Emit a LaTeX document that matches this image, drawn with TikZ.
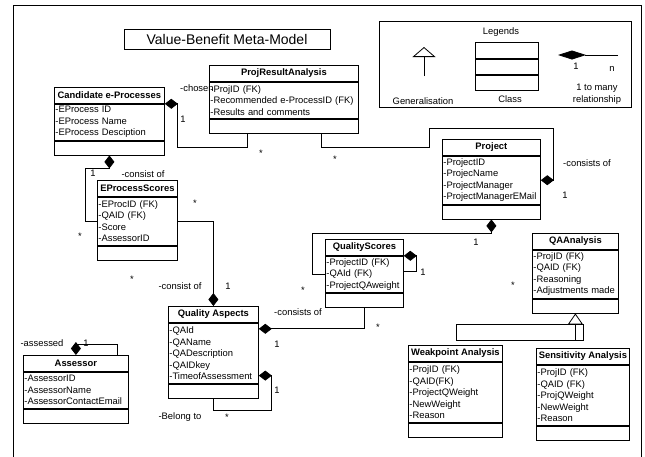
\documentclass[tikz,border=0pt]{standalone}
\usepackage{fontspec}
\setmainfont{Liberation Sans}
\usetikzlibrary{arrows.meta,positioning}

\tikzset{
  classtitle/.style={draw, line width=0.8pt, minimum height=16pt, inner sep=1pt, font=\fontsize{9.4}{11.5}\selectfont\bfseries},
  classattr/.style={draw, line width=0.8pt, inner xsep=1pt, inner ysep=0pt, align=left, anchor=north},
  classops/.style={draw, line width=0.8pt, minimum height=14pt, inner sep=0pt},
  comp/.style={line width=0.8pt, -{Diamond[length=13pt,width=10pt]}},
  gen/.style={line width=0.8pt, -{Triangle[open,length=11pt,width=15pt,fill=white]}},
  lbl/.style={inner sep=0pt},
}

\begin{document}
\begin{tikzpicture}[x=1pt, y=-1pt, font=\fontsize{9.4}{11.5}\selectfont]

        \useasboundingbox (0,0) rectangle (645,456);
        % Cornice esterna
        \draw[line width=0.8pt] (13,470) -- (13,5) -- (641,5) -- (641,470);

        % Titolo
        \node[draw, line width=0.8pt, minimum width=206pt, minimum height=20pt, font=\fontsize{14}{16}\selectfont] (title) at (227,39) {Value-Benefit Meta-Model};

        % Legenda
        \node[draw, line width=0.8pt, minimum width=252pt, minimum height=86pt, anchor=north west] (legend) at (379,21) {};
        \node[lbl] (legtitle) at (501,32) {Legends};
        \node[draw, line width=0.8pt, minimum width=63pt, minimum height=16pt, anchor=north west] (legc1) at (475,42) {};
        \node[draw, line width=0.8pt, minimum width=63pt, minimum height=15pt, below=0pt of legc1] (legc2) {};
        \node[draw, line width=0.8pt, minimum width=63pt, minimum height=15pt, below=0pt of legc2] (legc3) {};
        \node[lbl] (legclass) at (510,99) {Class};
        \coordinate (leggbot) at (424,76);
        \coordinate (leggtop) at (424,47);
        \draw[line width=0.8pt, -{Triangle[open,length=10pt,width=23pt,fill=white]}] (leggbot) -- (leggtop);
        \node[lbl] (leggen) at (423,101) {Generalisation};
        \coordinate (legdr) at (618,55);
        \coordinate (legdl) at (558,55);
        \draw[line width=0.8pt, -{Diamond[length=28pt,width=9pt]}] (legdr) -- (legdl);
        \node[lbl] (legone) at (576,66) {1};
        \node[lbl] (legn) at (612,69) {n};
        \node[lbl, align=center] (legrel) at (597,94) {1 to many\\relationship};

        % Classi
        \node[classtitle, minimum width=110pt, anchor=north west] (cand) at (54,87) {Candidate e-Processes};
        \node[classattr, text width=108pt, minimum height=36pt, below=0pt of cand] (cand-a) {-EProcess ID\\-EProcess Name\\-EProcess Desciption};
        \node[classops, minimum width=110pt, below=0pt of cand-a] (cand-o) {};

        \node[classtitle, minimum width=149pt, anchor=north west] (pra) at (209,65) {ProjResultAnalysis};
        \node[classattr, text width=147pt, minimum height=36pt, below=0pt of pra] (pra-a) {-ProjID (FK)\\-Recommended e-ProcessID (FK)\\-Results and comments};
        \node[classops, minimum width=149pt, below=0pt of pra-a] (pra-o) {};

        \node[classtitle, minimum width=98pt, anchor=north west] (proj) at (442,139) {Project};
        \node[classattr, text width=96pt, minimum height=48pt, below=0pt of proj] (proj-a) {-ProjectID\\-ProjecName\\-ProjectManager\\-ProjectManagerEMail};
        \node[classops, minimum width=98pt, below=0pt of proj-a] (proj-o) {};

        \node[classtitle, minimum width=80pt, anchor=north west] (eps) at (97,180) {EProcessScores};
        \node[classattr, text width=78pt, minimum height=48pt, below=0pt of eps] (eps-a) {-EProcID (FK)\\-QAID (FK)\\-Score\\-AssessorID};
        \node[classops, minimum width=80pt, below=0pt of eps-a] (eps-o) {};

        \node[classtitle, minimum width=78pt, anchor=north west] (qs) at (325,239) {QualityScores};
        \node[classattr, text width=76pt, minimum height=36pt, below=0pt of qs] (qs-a) {-ProjectID (FK)\\-QAId (FK)\\-ProjectQAweight};
        \node[classops, minimum width=78pt, below=0pt of qs-a] (qs-o) {};

        \node[classtitle, minimum width=86pt, anchor=north west] (qaa) at (532,233) {QAAnalysis};
        \node[classattr, text width=84pt, minimum height=48pt, below=0pt of qaa] (qaa-a) {-ProjID (FK)\\-QAID (FK)\\-Reasoning\\-Adjustments made};
        \node[classops, minimum width=86pt, below=0pt of qaa-a] (qaa-o) {};

        \node[classtitle, minimum width=90pt, anchor=north west] (qa) at (168,306) {Quality Aspects};
        \node[classattr, text width=88pt, minimum height=60pt, below=0pt of qa] (qa-a) {-QAId\\-QAName\\-QADescription\\-QAIDkey\\-TimeofAssessment};
        \node[classops, minimum width=90pt, below=0pt of qa-a] (qa-o) {};

        \node[classtitle, minimum width=105pt, anchor=north west] (ass) at (23,355) {Assessor};
        \node[classattr, text width=103pt, minimum height=36pt, below=0pt of ass] (ass-a) {-AssessorID\\-AssessorName\\-AssessorContactEmail};
        \node[classops, minimum width=105pt, below=0pt of ass-a] (ass-o) {};

        \node[classtitle, minimum width=94pt, anchor=north west] (wp) at (408,345) {Weakpoint Analysis};
        \node[classattr, text width=92pt, minimum height=60pt, below=0pt of wp] (wp-a) {-ProjID (FK)\\-QAID(FK)\\-ProjectQWeight\\-NewWeight\\-Reason};
        \node[classops, minimum width=94pt, below=0pt of wp-a] (wp-o) {};

        \node[classtitle, minimum width=93pt, anchor=north west] (sa) at (536,348) {Sensitivity Analysis};
        \node[classattr, text width=91pt, minimum height=60pt, below=0pt of sa] (sa-a) {-ProjID (FK)\\-QAID (FK)\\-ProjQWeight\\-NewWeight\\-Reason};
        \node[classops, minimum width=93pt, below=0pt of sa-a] (sa-o) {};

        % Relazioni
        \draw[comp] ([xshift=38pt]pra-o.south west) -- ++(0,14) -| ([xshift=13pt]cand.south east) -- (cand.south east);
        \draw[comp] ([xshift=112pt]pra-o.south west) -- ++(0,14) -- ++(108,0) -- ++(0,-19) -- ++(124,0) |- (proj-a.east);
        \draw[comp] (eps-a.west) -- ++(-12,0) |- ([yshift=-13pt]cand-o.south) -- (cand-o.south);
        \draw[comp] (eps-a.east) -| (qa.north);
        \draw[comp] (qs-o.south) |- ([yshift=-6pt]qa-a.north east);
        \draw[comp] (qa-o.south) -- ++(0,12) -| ([xshift=13pt,yshift=8pt]qa-a.south east) -- ([yshift=8pt]qa-a.south east);
        \draw[comp] (qs-a.west) -- ++(-13,0) |- ([yshift=-14pt]proj-o.south) -- (proj-o.south);
        \draw[comp] ([yshift=-16pt]qs-a.north east) -- ++(13,0) -- ++(0,-16) -- (qs.south east);
        \draw[comp] ([xshift=-11pt]ass.north east) |- ([yshift=11pt]ass.north) -- (ass.north);

        % Generalizzazione
        \coordinate (genbase) at ([yshift=-11pt]qaa-o.south);
        \draw[gen] (genbase) -- (qaa-o.south);
        \draw[line width=0.8pt] (genbase) rectangle ++(-119,16);
        \draw[line width=0.8pt] (genbase) rectangle ++(8,16);

        % Etichette
        \node[lbl, anchor=west] (lchosen) at (180,88) {-chosen};
        \node[lbl] (m1) at (183,119) {1};
        \node[lbl] (m2) at (261,153) {*};
        \node[lbl] (m3) at (335,159) {*};
        \node[lbl, anchor=west] (lproj) at (563,163) {-consists of};
        \node[lbl] (m4) at (565,195) {1};
        \node[lbl] (m5) at (93,173) {1};
        \node[lbl] (lcand) at (143,174) {-consist of};
        \node[lbl] (m6) at (80,236) {*};
        \node[lbl] (m7) at (195,203) {*};
        \node[lbl] (m8) at (132,279) {*};
        \node[lbl] (leps) at (180,286) {-consist of};
        \node[lbl] (m9) at (228,286) {1};
        \node[lbl] (lqs) at (298,312) {-consists of};
        \node[lbl] (m10) at (277,344) {1};
        \node[lbl] (m11) at (378,327) {*};
        \node[lbl] (m12) at (277,390) {1};
        \node[lbl] (m13) at (227,417) {*};
        \node[lbl] (lbelong) at (180,417) {-Belong to};
        \node[lbl] (m14) at (303,290) {*};
        \node[lbl] (m15) at (476,242) {1};
        \node[lbl] (m16) at (513,285) {*};
        \node[lbl] (m17) at (423,272) {1};
        \node[lbl] (lass) at (42,343) {-assessed};
        \node[lbl] (m18) at (86,343) {1};

\end{tikzpicture}
\end{document}
